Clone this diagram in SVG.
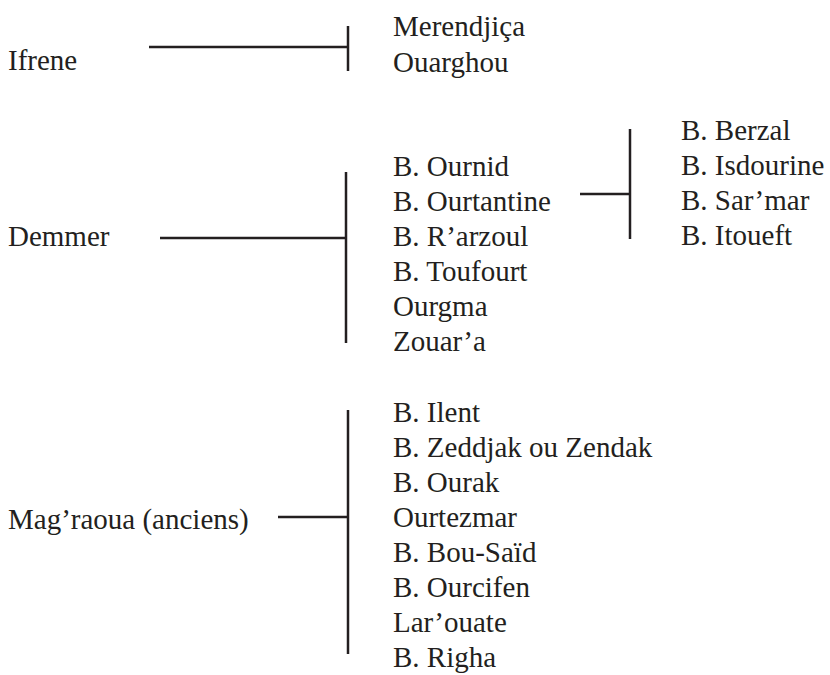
<svg xmlns="http://www.w3.org/2000/svg" width="830" height="675" viewBox="0 0 830 675">
<style>
.c line{stroke:#231f20;stroke-width:2.5;fill:none}
</style>
<rect width="830" height="675" fill="#fff"/>
<g class="c" id="connectors">
<line x1="149" y1="47" x2="348" y2="47"/>
<line x1="348" y1="26" x2="348" y2="71"/>
<line x1="160" y1="238" x2="346" y2="238"/>
<line x1="346" y1="172" x2="346" y2="343"/>
<line x1="580" y1="194" x2="630" y2="194"/>
<line x1="630" y1="129" x2="630" y2="239"/>
<line x1="278" y1="517" x2="348" y2="517"/>
<line x1="348" y1="410" x2="348" y2="654"/>
</g>
<g font-family="Liberation Serif, serif" font-size="29" fill="#231f20">
<g id="ifrene"><text x="8" y="70">Ifrene</text></g>
<g id="ifrene-list">
<text x="393" y="36">Merendjiça</text>
<text x="393" y="72">Ouarghou</text>
</g>
<g id="demmer"><text x="8" y="246">Demmer</text></g>
<g id="demmer-list">
<text x="393" y="176">B. Ournid</text>
<text x="393" y="211">B. Ourtantine</text>
<text x="393" y="246">B. R’arzoul</text>
<text x="393" y="281">B. Toufourt</text>
<text x="393" y="316">Ourgma</text>
<text x="393" y="351">Zouar’a</text>
</g>
<g id="ourtantine-list">
<text x="681" y="140">B. Berzal</text>
<text x="681" y="175">B. Isdourine</text>
<text x="681" y="210">B. Sar’mar</text>
<text x="681" y="245">B. Itoueft</text>
</g>
<g id="magraoua"><text x="8" y="529">Mag’raoua (anciens)</text></g>
<g id="magraoua-list">
<text x="393" y="422">B. Ilent</text>
<text x="393" y="457">B. Zeddjak ou Zendak</text>
<text x="393" y="492">B. Ourak</text>
<text x="393" y="527">Ourtezmar</text>
<text x="393" y="562">B. Bou-Saïd</text>
<text x="393" y="597">B. Ourcifen</text>
<text x="393" y="632">Lar’ouate</text>
<text x="393" y="667">B. Righa</text>
</g>
</g>
</svg>
